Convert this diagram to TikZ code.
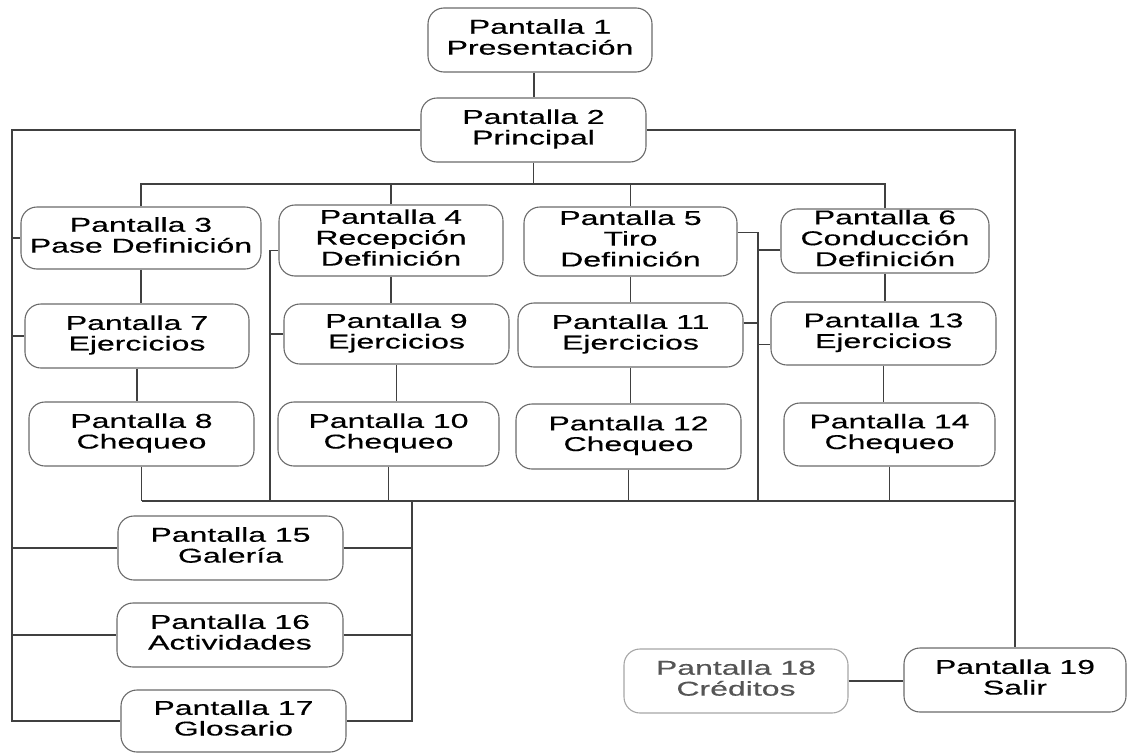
\documentclass[tikz,border=0pt]{standalone}
\usepackage{fontspec}
\setmainfont{Liberation Sans}
\newfontfamily\boxfamily{Liberation Sans}[FakeBold=0.3]
\usepackage{graphicx}
\usepackage{xcolor}
\usepackage{tikz}
\usetikzlibrary{calc,positioning}
\definecolor{linegray}{HTML}{404040}
\definecolor{boxgray}{HTML}{6A6A6A}
\definecolor{softgray}{HTML}{555555}
\newcommand{\pantalla}[2]{\scalebox{1.6}[1]{\begin{tabular}{@{}c@{}}#1\\#2\end{tabular}}}

\begin{document}
\begin{tikzpicture}[x=1pt, y=-1pt,
        box/.style={draw=boxgray, line width=1.1pt, rounded corners=16pt, inner sep=0pt,
            font=\boxfamily\fontsize{20}{20.5}\selectfont},
        link/.style={draw=linegray, line width=1.1pt}]
        \useasboundingbox (0,0) rectangle (1127,755);

        % coordinates
        \coordinate (tb) at (0,184);
        \coordinate (bb) at (0,501);
        \coordinate (lx) at (12,0);
        \coordinate (v4) at (270,0);
        \coordinate (v5) at (758,0);
        \coordinate (gx) at (412,0);

        % screens
        \node[box, minimum width=224pt, minimum height=64pt] (P1) at (540,40) {\pantalla{Pantalla 1}{Presentación}};
        \node[box, minimum width=225pt, minimum height=64pt] (P2) at (533.5,130) {\pantalla{Pantalla 2}{Principal}};

        \node[box, minimum width=240pt, minimum height=62pt] (P3) at (141,238) {\pantalla{Pantalla 3}{Pase Definición}};
        \node[box, minimum width=224pt, minimum height=71pt] (P4) at (391,240.5) {\pantalla{Pantalla 4}{Recepción\\Definición}};
        \node[box, minimum width=213pt, minimum height=69pt] (P5) at (630.5,241.5) {\pantalla{Pantalla 5}{Tiro\\Definición}};
        \node[box, minimum width=208pt, minimum height=64pt] (P6) at (885,241) {\pantalla{Pantalla 6}{Conducción\\Definición}};

        \node[box, minimum width=224pt, minimum height=64pt] (P7) at (137,336) {\pantalla{Pantalla 7}{Ejercicios}};
        \node[box, minimum width=225pt, minimum height=64pt] (P8) at (141.5,434) {\pantalla{Pantalla 8}{Chequeo}};
        \node[box, minimum width=225pt, minimum height=60pt] (P9) at (396.5,334) {\pantalla{Pantalla 9}{Ejercicios}};
        \node[box, minimum width=221pt, minimum height=64pt] (P10) at (388.5,434) {\pantalla{Pantalla 10}{Chequeo}};
        \node[box, minimum width=225pt, minimum height=64pt] (P11) at (630.5,335) {\pantalla{Pantalla 11}{Ejercicios}};
        \node[box, minimum width=225pt, minimum height=65pt] (P12) at (628.5,436.5) {\pantalla{Pantalla 12}{Chequeo}};
        \node[box, minimum width=225pt, minimum height=63pt] (P13) at (883.5,333.5) {\pantalla{Pantalla 13}{Ejercicios}};
        \node[box, minimum width=211pt, minimum height=63pt] (P14) at (889.5,434.5) {\pantalla{Pantalla 14}{Chequeo}};

        \node[box, minimum width=225pt, minimum height=64pt] (P15) at (230.5,548) {\pantalla{Pantalla 15}{Galería}};
        \node[box, minimum width=226pt, minimum height=64pt] (P16) at (230,635) {\pantalla{Pantalla 16}{Actividades}};
        \node[box, minimum width=225pt, minimum height=62pt] (P17) at (233.5,721) {\pantalla{Pantalla 17}{Glosario}};

        \node[box, draw=gray!70, text=softgray, minimum width=224pt, minimum height=64pt] (P18) at (736,681) {\pantalla{Pantalla 18}{Créditos}};
        \node[box, minimum width=222pt, minimum height=64pt] (P19) at (1015,680) {\pantalla{Pantalla 19}{Salir}};

        % main links
        \draw[link] ([xshift=-6pt]P1.south) -- ([xshift=-6pt]P1.south |- P2.north);
        \draw[link] (P2.west) -- (P2.west -| lx) -- (lx |- P17.west) -- (P17.west);
        \draw[link] (P2.east) -| (P19.north);
        \draw[link] (P2.south) -- (P2.south |- tb);
        \draw[link] (P3.north) |- (P6.north |- tb) -- (P6.north);
        \draw[link] (P4.north) -- (P4.north |- tb);
        \draw[link] (P5.north) -- (P5.north |- tb);

        % left bus
        \draw[link] (lx |- P3.west) -- (P3.west);
        \draw[link] (lx |- P7.west) -- (P7.west);
        \draw[link] (lx |- P15.west) -- (P15.west);
        \draw[link] (lx |- P16.west) -- (P16.west);

        % columns
        \draw[link] (P3.south) -- (P3.south |- P7.north);
        \draw[link] (P7.south) -- (P7.south |- P8.north);
        \draw[link] (P4.south) -- (P4.south |- P9.north);
        \draw[link] (P9.south) -- (P9.south |- P10.north);
        \draw[link] (P5.south) -- (P5.south |- P11.north);
        \draw[link] (P11.south) -- (P11.south |- P12.north);
        \draw[link] (P6.south) -- (P6.south |- P13.north);
        \draw[link] (P13.south) -- (P13.south |- P14.north);

        % bottom bus
        \draw[link] (P8.south |- bb) -- (P19.north |- bb);
        \draw[link] (P8.south) -- (P8.south |- bb);
        \draw[link] (P10.south) -- (P10.south |- bb);
        \draw[link] (P12.south) -- (P12.south |- bb);
        \draw[link] (P14.south) -- (P14.south |- bb);

        % side links
        \draw[link] ([yshift=-10pt]P4.west) -- ([yshift=-10pt]P4.west -| v4) -- (v4 |- bb);
        \draw[link] (v4 |- P9.west) -- (P9.west);
        \draw[link] ([yshift=9pt]P5.east) -- ([yshift=9pt]P5.east -| v5) -- (v5 |- bb);
        \draw[link] ([yshift=-9pt]P6.west -| v5) -- ([yshift=-9pt]P6.west);
        \draw[link] ([yshift=12pt]P11.east) -- ([yshift=12pt]P11.east -| v5);
        \draw[link] ([yshift=-11pt]P13.west -| v5) -- ([yshift=-11pt]P13.west);

        % group 15-17
        \draw[link] (gx |- bb) -- (gx |- P17.east) -- (P17.east);
        \draw[link] (P15.east) -- (P15.east -| gx);
        \draw[link] (P16.east) -- (P16.east -| gx);
        \draw[link] (P18.east) -- (P18.east -| P19.west);

    \end{tikzpicture}
\end{document}
